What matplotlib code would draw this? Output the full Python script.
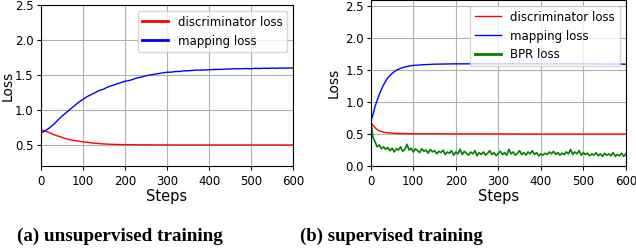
import numpy as np
import matplotlib
matplotlib.use("Agg")
import matplotlib.pyplot as plt

# (a) unsupervised training, sampled every 10 steps
steps_a = np.arange(0, 601, 10)
mapping_a = [0.67, 0.70, 0.74, 0.79, 0.85, 0.91, 0.96, 1.01, 1.06, 1.11,
             1.15, 1.19, 1.22, 1.25, 1.28, 1.30, 1.33, 1.35, 1.37, 1.39,
             1.41, 1.42, 1.44, 1.46, 1.47, 1.49, 1.50, 1.51, 1.52, 1.53,
             1.54, 1.54, 1.55, 1.55, 1.56, 1.56, 1.565, 1.57, 1.57, 1.572,
             1.575, 1.578, 1.58, 1.58, 1.585, 1.585, 1.59, 1.588, 1.59, 1.592,
             1.59, 1.595, 1.593, 1.596, 1.595, 1.598, 1.596, 1.60, 1.598, 1.60, 1.60]
disc_a = [0.72, 0.70, 0.68, 0.65, 0.63, 0.61, 0.59, 0.575, 0.565, 0.555,
          0.545, 0.54, 0.53, 0.525, 0.52, 0.515, 0.512, 0.51, 0.508, 0.506,
          0.505, 0.504, 0.503, 0.503, 0.502, 0.502, 0.502, 0.501, 0.501, 0.501,
          0.501, 0.50, 0.50, 0.50, 0.50, 0.50, 0.50, 0.50, 0.50, 0.50,
          0.50, 0.50, 0.50, 0.50, 0.50, 0.50, 0.50, 0.50, 0.50, 0.50,
          0.50, 0.50, 0.50, 0.50, 0.50, 0.50, 0.50, 0.50, 0.50, 0.50, 0.50]

# (b) supervised training
steps_b_disc = [0, 5, 10, 15, 20, 25, 30, 40, 50, 60, 80, 100, 150, 200, 300, 400, 500, 600]
disc_b = [0.68, 0.64, 0.60, 0.57, 0.55, 0.54, 0.53, 0.52, 0.515, 0.51, 0.508, 0.505,
          0.505, 0.503, 0.502, 0.50, 0.50, 0.50]
steps_b_map = [0, 5, 10, 15, 20, 25, 30, 35, 40, 50, 60, 70, 80, 90, 100, 120, 150,
               200, 300, 400, 500, 600]
mapping_b = [0.70, 0.80, 0.93, 1.03, 1.12, 1.20, 1.27, 1.33, 1.38, 1.45, 1.50, 1.53,
             1.55, 1.565, 1.575, 1.585, 1.595, 1.60, 1.60, 1.60, 1.60, 1.595]
steps_b_bpr = np.arange(0, 601, 5)
bpr_b = [0.70, 0.45, 0.38, 0.30, 0.33, 0.27, 0.30, 0.26, 0.29, 0.24,
         0.28, 0.22, 0.27, 0.25, 0.30, 0.23, 0.26, 0.34, 0.25, 0.28,
         0.22, 0.27, 0.24, 0.21, 0.27, 0.23, 0.25, 0.20, 0.26, 0.22,
         0.24, 0.19, 0.23, 0.21, 0.25, 0.18, 0.22, 0.20, 0.24, 0.17,
         0.22, 0.19, 0.26, 0.18, 0.23, 0.20, 0.17, 0.22, 0.19, 0.24,
         0.16, 0.21, 0.18, 0.22, 0.17, 0.20, 0.24, 0.18, 0.21, 0.16,
         0.20, 0.23, 0.18, 0.21, 0.17, 0.26, 0.19, 0.22, 0.17, 0.20,
         0.24, 0.18, 0.21, 0.17, 0.22, 0.19, 0.24, 0.18, 0.21, 0.16,
         0.19, 0.17, 0.20, 0.18, 0.22, 0.19, 0.23, 0.18, 0.21, 0.17,
         0.20, 0.18, 0.22, 0.19, 0.26, 0.18, 0.22, 0.19, 0.24, 0.17,
         0.21, 0.18, 0.20, 0.16, 0.19, 0.17, 0.21, 0.16, 0.19, 0.15,
         0.20, 0.17, 0.19, 0.16, 0.21, 0.15, 0.18, 0.16, 0.20, 0.15, 0.19]

captions = ["(a) unsupervised training", "(b) supervised training"]

plt.rcParams['font.family'] = 'DejaVu Sans'
fig = plt.figure(figsize=(6.36, 2.5), dpi=100)
ax1 = fig.add_axes([0.064, 0.336, 0.397, 0.644])
ax2 = fig.add_axes([0.583, 0.336, 0.401, 0.664])

ax1.plot(steps_a, disc_a, color='red', lw=1, label='discriminator loss')
ax1.plot(steps_a, mapping_a, color='blue', lw=1, label='mapping loss')
ax1.set_xlim(0, 600)
ax1.set_ylim(0.2, 2.5)
ax1.set_yticks([0.5, 1.0, 1.5, 2.0, 2.5])
leg1 = ax1.legend(loc='upper right', fontsize=8.5, handlelength=2.2)
for h in leg1.get_lines():
    h.set_linewidth(2)

ax2.plot(steps_b_disc, disc_b, color='red', lw=1, label='discriminator loss')
ax2.plot(steps_b_map, mapping_b, color='blue', lw=1, label='mapping loss')
ax2.plot(steps_b_bpr, bpr_b, color='green', lw=1.2, label='BPR loss')
ax2.set_xlim(0, 600)
ax2.set_ylim(0, 2.6)
ax2.set_yticks([0.0, 0.5, 1.0, 1.5, 2.0, 2.5])
leg2 = ax2.legend(loc='upper right', fontsize=8.5, handlelength=2.2)
leg2.get_lines()[2].set_linewidth(2)

for ax in (ax1, ax2):
    ax.set_xticks([0, 100, 200, 300, 400, 500, 600])
    ax.grid(True, color='#b0b0b0', lw=0.8)
    ax.tick_params(labelsize=8.5, length=3)
    ax.tick_params(axis='y', pad=2)
    ax.set_xlabel('Steps', fontsize=10.5, labelpad=1)
    ax.set_ylabel('Loss', fontsize=10)
ax1.yaxis.set_label_coords(-0.104, 0.5)
ax2.yaxis.set_label_coords(-0.118, 0.5)

fig.text(0.189, 0.055, captions[0], family='Liberation Serif', weight='bold',
         fontsize=13.8, ha='center', va='center')
fig.text(0.616, 0.055, captions[1], family='Liberation Serif', weight='bold',
         fontsize=13.5, ha='center', va='center')

fig.savefig('out.png', dpi=100)
